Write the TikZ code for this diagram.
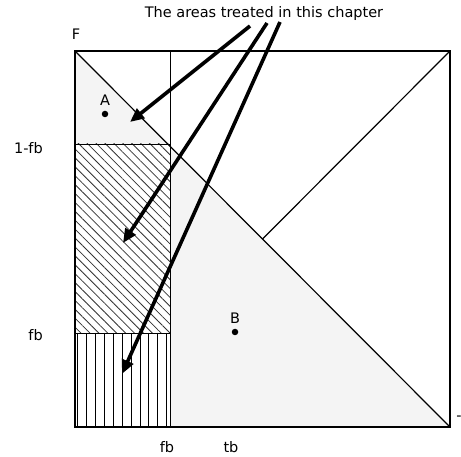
\documentclass[tikz,border=0pt]{standalone}
\usepackage{fontspec}
\setmainfont{DejaVu Sans}
\usetikzlibrary{arrows.meta,patterns.meta}
\definecolor{AreaGray}{HTML}{F4F4F4}
\definecolor{HatchInk}{HTML}{333333}
\tikzset{
  frame/.style={line width=2.8pt},
  divider/.style={line width=0.9pt},
  diag/.style={line width=1.2pt},
  hatched/.style={fill=white,pattern={Lines[angle=-45,distance=6.3pt,line width=0.8pt]},pattern color=HatchInk},
  pointer/.style={-{Triangle[length=14pt,width=12pt]},line width=3.6pt},
  tag/.style={font=\fontsize{14.5}{17}\selectfont,inner sep=0pt},
  spot/.style={circle,fill=black,inner sep=0pt,minimum size=6.5pt},
}
\begin{document}
\begin{tikzpicture}[x=1pt,y=-1pt]
  \useasboundingbox (0,0) rectangle (461,457);
  % regions
  \fill[AreaGray] (75,51) -- (75,427) -- (450,427) -- cycle;
  \fill[white] (75,144) rectangle (170,333);
  \fill[hatched] (75,144) rectangle (170,333);
  \fill[white] (75,333) rectangle (170,427);
  \foreach \i in {0,...,10}
    \draw[line width=0.9pt] (77.7+8.9*\i,333) -- (77.7+8.9*\i,427);
  \draw[divider] (170,51) -- (170,427);
  \draw[divider] (75,144) -- (170,144);
  \draw[divider] (75,333) -- (170,333);
  \draw[diag] (75,51) -- (450,427);
  \draw[diag] (450,51) -- (262.5,239);
  \draw[frame] (75,51) rectangle (450,427);
  % points
  \node[spot] (dotA) at (105,114) {};
  \node[spot] (dotB) at (235,332) {};
  \node[tag,above=5pt] (labA) at (dotA.north) {A};
  \node[tag,above=5pt] (labB) at (dotB.north) {B};
  % axis labels
  \node[tag] (labF) at (76,34) {F};
  \node[tag,anchor=east] (lab1fb) at (43,148) {1-fb};
  \node[tag,anchor=east] (labfbl) at (43,335) {fb};
  \node[tag] (labfbb) at (167,447) {fb};
  \node[tag] (labtb) at (231,447) {tb};
  \node[tag] (labT) at (459,418) {-};
  \node[tag] (title) at (264,14) {The areas treated in this chapter};
  % arrows
  \coordinate (s1) at (250,26);
  \coordinate (s2) at (267,23);
  \coordinate (s3) at (280,22);
  \coordinate (t1) at (130,122);
  \coordinate (t2) at (123,243);
  \coordinate (t3) at (122,374);
  \draw[pointer] (s1) -- (t1);
  \draw[pointer] (s2) -- (t2);
  \draw[pointer] (s3) -- (t3);
\end{tikzpicture}
\end{document}
